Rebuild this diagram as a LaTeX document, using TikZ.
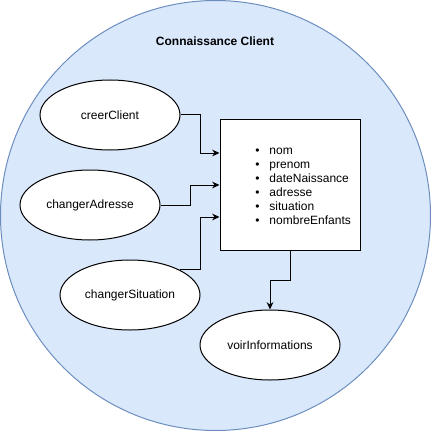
\documentclass[tikz,border=0pt]{standalone}
\usepackage{fontspec}
\setmainfont{Liberation Sans}
\usetikzlibrary{arrows.meta,shapes.geometric,calc}
\definecolor{zonefill}{HTML}{DAE8FC}
\definecolor{zoneline}{HTML}{6C8EBF}
\tikzset{
  zone/.style={circle, draw=zoneline, fill=zonefill, minimum size=322.5pt, inner sep=0pt},
  usecase/.style={ellipse, draw, fill=white, minimum width=105pt, minimum height=52.5pt, inner sep=0pt},
  databox/.style={rectangle, draw, fill=white, minimum width=105pt, minimum height=97.5pt, inner sep=0pt},
  item/.style={anchor=west, inner sep=0pt, text height=6.6pt, text depth=1.9pt},
  flow/.style={-{Stealth[length=5.5pt,width=5pt]}}
}
\begin{document}
\begin{tikzpicture}[x=0.75pt, y=-0.75pt, line width=0.75pt, font=\fontsize{9}{11}\selectfont]
  \useasboundingbox (0,0) rectangle (431,431);
  \node[zone] (zone) at (215.5,215.5) {};
  \node[font=\fontsize{9}{11}\selectfont\bfseries] (title) at (215,41) {Connaissance Client};
  % use cases
  \node[usecase] (creer) at (110,115) {creerClient};
  \node[usecase] (adr) at (90,205) {changerAdresse};
  \node[usecase] (sit) at (130,295) {changerSituation};
  \node[usecase] (voir) at (270,345) {voirInformations};
  % client data
  \node[databox] (data) at (290,185) {};
  \foreach \txt [count=\i] in {nom, prenom, dateNaissance, adresse, situation, nombreEnfants}
    \node[item] (item\i) at (269,137+14*\i) {\llap{\textbullet\hspace{7.5pt}}\txt};
  % links
  \draw[flow] (creer.east) -- ++(20,0) |- ($(data.west)+(0,-32)$);
  \draw[flow] (adr.east) -- ++(30,0) |- (data.west);
  \draw[flow] (sit.north east) -- ++(20.5,0) |- ($(data.west)+(0,32)$);
  \draw[flow] (data.south) -- ++(0,30) -| (voir.north);
\end{tikzpicture}
\end{document}
